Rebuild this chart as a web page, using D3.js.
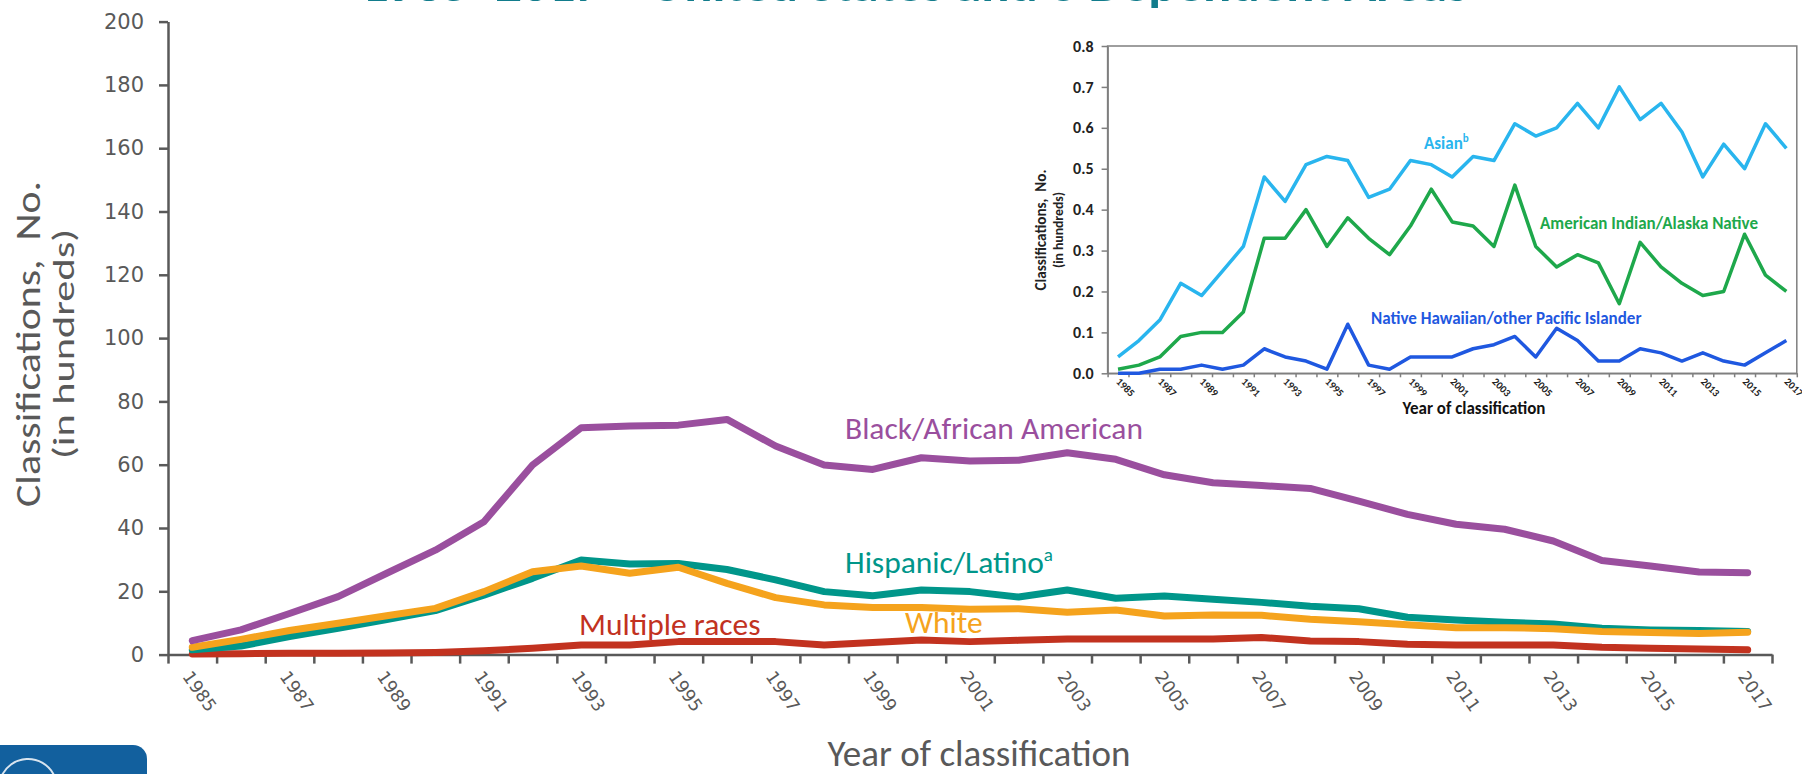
<!DOCTYPE html>
<html>
<head>
<meta charset="utf-8">
<script src="https://cdn.jsdelivr.net/npm/d3@7"></script>
<style>
  html, body { margin: 0; padding: 0; background: #fff; }
  svg { display: block; }
</style>
</head>
<body>
<div id="chart"></div>
<script>
// Years of classification (categories)
const years = [1985, 1986, 1987, 1988, 1989, 1990, 1991, 1992, 1993, 1994, 1995,
  1996, 1997, 1998, 1999, 2000, 2001, 2002, 2003, 2004, 2005, 2006, 2007, 2008,
  2009, 2010, 2011, 2012, 2013, 2014, 2015, 2016, 2017];
const labelYears = [1985, 1987, 1989, 1991, 1993, 1995, 1997, 1999, 2001, 2003,
  2005, 2007, 2009, 2011, 2013, 2015, 2017];

// Main chart series (hundreds)
const black = [4.4, 7.8, 13.0, 18.3, 25.7, 33.0, 42.0, 59.9, 71.7, 72.2, 72.5, 74.3,
  65.9, 59.9, 58.5, 62.2, 61.2, 61.4, 63.8, 61.7, 56.8, 54.3, 53.4, 52.5, 48.5, 44.3,
  41.2, 39.6, 35.9, 29.7, 28.0, 26.1, 25.9];
const hispanic = [1.5, 2.7, 5.7, 8.3, 11.1, 13.9, 18.8, 24.1, 29.9, 28.6, 28.8, 26.9,
  23.6, 19.9, 18.6, 20.4, 19.9, 18.2, 20.4, 17.8, 18.5, 17.5, 16.5, 15.3, 14.5, 11.8,
  10.9, 10.2, 9.7, 8.3, 7.8, 7.6, 7.3];
const white = [2.3, 4.8, 7.6, 9.9, 12.3, 14.6, 19.9, 26.2, 28.0, 25.7, 27.6, 22.5,
  18.0, 15.7, 14.9, 14.9, 14.3, 14.5, 13.4, 14.1, 12.2, 12.5, 12.4, 11.2, 10.4, 9.4,
  8.5, 8.5, 8.2, 7.3, 7.0, 6.7, 7.1];
const multiple = [0.2, 0.3, 0.4, 0.4, 0.5, 0.7, 1.2, 2.0, 3.0, 3.0, 4.1, 4.1, 4.1,
  3.0, 3.8, 4.6, 4.1, 4.5, 4.9, 4.9, 4.9, 4.9, 5.4, 4.3, 4.1, 3.3, 3.0, 3.0, 3.0,
  2.3, 2.0, 1.8, 1.5];

// Inset series (hundreds)
const asian = [0.04, 0.08, 0.13, 0.22, 0.19, 0.25, 0.31, 0.48, 0.42, 0.51, 0.53, 0.52,
  0.43, 0.45, 0.52, 0.51, 0.48, 0.53, 0.52, 0.61, 0.58, 0.60, 0.66, 0.60, 0.70, 0.62,
  0.66, 0.59, 0.48, 0.56, 0.50, 0.61, 0.55];
const aian = [0.01, 0.02, 0.04, 0.09, 0.10, 0.10, 0.15, 0.33, 0.33, 0.40, 0.31, 0.38,
  0.33, 0.29, 0.36, 0.45, 0.37, 0.36, 0.31, 0.46, 0.31, 0.26, 0.29, 0.27, 0.17, 0.32,
  0.26, 0.22, 0.19, 0.20, 0.34, 0.24, 0.20];
const nhpi = [0.00, 0.00, 0.01, 0.01, 0.02, 0.01, 0.02, 0.06, 0.04, 0.03, 0.01, 0.12,
  0.02, 0.01, 0.04, 0.04, 0.04, 0.06, 0.07, 0.09, 0.04, 0.11, 0.08, 0.03, 0.03, 0.06,
  0.05, 0.03, 0.05, 0.03, 0.02, 0.05, 0.08];

const mainTicks = [0, 20, 40, 60, 80, 100, 120, 140, 160, 180, 200];
const insetTicks = [0, 0.1, 0.2, 0.3, 0.4, 0.5, 0.6, 0.7, 0.8];

const width = 1802, height = 774;
const LABEL_FONT = 'Carlito, Lato, sans-serif';
const TICK_FONT = '"DejaVu Sans", Verdana, sans-serif';
const GREY = '#595959';

const svg = d3.select('#chart').append('svg')
  .attr('width', width)
  .attr('height', height);

// Cut-off slide title at the top
svg.append('text')
  .attr('x', 362)
  .attr('y', 1)
  .attr('textLength', 1106)
  .attr('lengthAdjust', 'spacingAndGlyphs')
  .style('font-family', LABEL_FONT)
  .style('font-weight', 'bold')
  .style('font-size', '44px')
  .style('fill', '#127c8c')
  .text('1985\u20132017\u2014United States and 6 Dependent Areas');

// ---------- Main chart ----------
const x = d3.scaleLinear().domain([1984.5, 2017.5]).range([168, 1772]);
const y = d3.scaleLinear().domain([0, 200]).range([654.6, 21.6]);

// boundaries between categories for tick marks
const bounds = years.map(d => d - 0.5).concat([2017.5]);

const xAxisG = svg.append('g')
  .attr('transform', `translate(0,${y(0)})`)
  .call(d3.axisBottom(x).tickValues(bounds).tickSize(9).tickFormat('').tickSizeOuter(0));

const xLabelG = svg.append('g')
  .attr('transform', `translate(0,${y(0)})`)
  .call(d3.axisBottom(x).tickValues(labelYears).tickSize(0).tickFormat(d3.format('d')));
xLabelG.select('.domain').remove();
xLabelG.selectAll('text')
  .attr('x', 0).attr('y', 0).attr('dy', 0)
  .attr('text-anchor', 'start')
  .attr('transform', 'translate(-11,22) rotate(55)')
  .style('font-family', TICK_FONT)
  .style('font-size', '17.5px')
  .style('fill', GREY);

const yAxisG = svg.append('g')
  .attr('transform', `translate(${x(1984.5)},0)`)
  .call(d3.axisLeft(y).tickValues(mainTicks).tickSize(9).tickPadding(15).tickSizeOuter(0));
yAxisG.selectAll('text')
  .style('font-family', TICK_FONT)
  .style('font-size', '21px')
  .style('fill', GREY);

[xAxisG, yAxisG].forEach(g => {
  g.select('.domain').attr('stroke', GREY).attr('stroke-width', 2.5);
  g.selectAll('.tick line').attr('stroke', GREY).attr('stroke-width', 2.5);
});

// axis titles
svg.append('text')
  .attr('x', 979)
  .attr('y', 766)
  .attr('text-anchor', 'middle')
  .style('font-family', LABEL_FONT)
  .style('font-size', '37px')
  .style('fill', GREY)
  .text('Year of classification');

const yTitle = svg.append('text')
  .attr('transform', 'translate(0,344) rotate(-90)')
  .attr('text-anchor', 'middle')
  .style('font-family', LABEL_FONT)
  .style('fill', GREY);
yTitle.append('tspan')
  .attr('x', 0).attr('y', 40)
  .attr('textLength', 326)
  .attr('lengthAdjust', 'spacingAndGlyphs')
  .style('font-size', '34px')
  .text('Classifications,\u00a0 No.');
yTitle.append('tspan')
  .attr('x', 0).attr('y', 74)
  .attr('textLength', 230)
  .attr('lengthAdjust', 'spacingAndGlyphs')
  .style('font-size', '31px')
  .text('(in hundreds)');

const line = d3.line()
  .x((d, i) => x(years[i]))
  .y(d => y(d));

const mainSeries = [
  { values: multiple, color: '#c2321f' },
  { values: hispanic, color: '#00968a' },
  { values: white, color: '#f5a31d' },
  { values: black, color: '#9a4f9e' }
];

svg.append('g').selectAll('path')
  .data(mainSeries)
  .join('path')
  .attr('fill', 'none')
  .attr('stroke', d => d.color)
  .attr('stroke-width', 7)
  .attr('stroke-linejoin', 'round')
  .attr('stroke-linecap', 'round')
  .attr('d', d => line(d.values));

// series labels
function seriesLabel(xPos, yPos, text, color, sup) {
  const t = svg.append('text')
    .attr('x', xPos)
    .attr('y', yPos)
    .style('font-family', LABEL_FONT)
    .style('font-size', '31.5px')
    .style('fill', color)
    .text(text);
  if (sup) {
    t.append('tspan')
      .attr('dy', -12)
      .style('font-size', '19px')
      .text(sup);
  }
}
seriesLabel(845, 439, 'Black/African American', '#9a4f9e');
seriesLabel(845, 573, 'Hispanic/Latino', '#00968a', 'a');
seriesLabel(579, 635, 'Multiple races', '#c2321f');
seriesLabel(905, 633, 'White', '#f5a31d');

// ---------- Inset chart ----------
const ix = d3.scaleLinear().domain([1984.5, 2017.5]).range([1107.6, 1796.8]);
const iy = d3.scaleLinear().domain([0, 0.8]).range([373.3, 46]);
const INSET_GREY = '#7f7f7f';

svg.append('rect')
  .attr('x', ix(1984.5))
  .attr('y', iy(0.8))
  .attr('width', ix(2017.5) - ix(1984.5))
  .attr('height', iy(0) - iy(0.8))
  .attr('fill', 'none')
  .attr('stroke', INSET_GREY)
  .attr('stroke-width', 1.5);

const ixAxis = svg.append('g')
  .attr('transform', `translate(0,${iy(0)})`)
  .call(d3.axisBottom(ix).tickValues(bounds).tickSize(4).tickFormat('').tickSizeOuter(0));

const ixLabels = svg.append('g')
  .attr('transform', `translate(0,${iy(0)})`)
  .call(d3.axisBottom(ix).tickValues(labelYears).tickSize(0).tickFormat(d3.format('d')));
ixLabels.select('.domain').remove();
ixLabels.selectAll('text')
  .attr('x', 0).attr('y', 0).attr('dy', 0)
  .attr('text-anchor', 'start')
  .attr('transform', 'translate(-3,9) rotate(45)')
  .style('font-family', LABEL_FONT)
  .style('font-weight', 'bold')
  .style('font-size', '10.5px')
  .style('fill', '#222');

const iyAxis = svg.append('g')
  .attr('transform', `translate(${ix(1984.5)},0)`)
  .call(d3.axisLeft(iy).tickValues(insetTicks).tickSize(6).tickPadding(8)
    .tickFormat(d3.format('.1f')).tickSizeOuter(0));
iyAxis.selectAll('text')
  .style('font-family', LABEL_FONT)
  .style('font-weight', 'bold')
  .style('font-size', '16px')
  .style('fill', '#222');

[ixAxis, iyAxis].forEach(g => {
  g.select('.domain').attr('stroke', INSET_GREY).attr('stroke-width', 1.5);
  g.selectAll('.tick line').attr('stroke', INSET_GREY).attr('stroke-width', 1.5);
});

svg.append('text')
  .attr('x', 1474)
  .attr('y', 414)
  .attr('text-anchor', 'middle')
  .style('font-family', LABEL_FONT)
  .style('font-weight', 'bold')
  .style('font-size', '17px')
  .style('fill', '#111')
  .text('Year of classification');

const iyTitle = svg.append('text')
  .attr('transform', 'translate(0,230) rotate(-90)')
  .attr('text-anchor', 'middle')
  .style('font-family', LABEL_FONT)
  .style('font-weight', 'bold')
  .style('fill', '#222');
iyTitle.append('tspan')
  .attr('x', 0).attr('y', 1046)
  .attr('textLength', 121)
  .attr('lengthAdjust', 'spacingAndGlyphs')
  .style('font-size', '15px')
  .text('Classifications,\u00a0 No.');
iyTitle.append('tspan')
  .attr('x', 0).attr('y', 1063)
  .attr('textLength', 76)
  .attr('lengthAdjust', 'spacingAndGlyphs')
  .style('font-size', '13.5px')
  .text('(in hundreds)');

const iline = d3.line()
  .x((d, i) => ix(years[i]))
  .y(d => iy(d));

const insetSeries = [
  { values: aian, color: '#1ea84b' },
  { values: nhpi, color: '#1f58e0' },
  { values: asian, color: '#29b5ee' }
];

svg.append('g').selectAll('path')
  .data(insetSeries)
  .join('path')
  .attr('fill', 'none')
  .attr('stroke', d => d.color)
  .attr('stroke-width', 3.5)
  .attr('stroke-linejoin', 'round')
  .attr('d', d => iline(d.values));

function insetLabel(xPos, yPos, text, color, sup) {
  const t = svg.append('text')
    .attr('x', xPos)
    .attr('y', yPos)
    .style('font-family', LABEL_FONT)
    .style('font-weight', 'bold')
    .style('font-size', '17px')
    .style('fill', color)
    .text(text);
  if (sup) {
    t.append('tspan')
      .attr('dy', -7)
      .style('font-size', '11px')
      .text(sup);
  }
}
insetLabel(1424, 149, 'Asian', '#29b5ee', 'b');
insetLabel(1540, 229, 'American Indian/Alaska Native', '#1ea84b');
insetLabel(1371, 324, 'Native Hawaiian/other Pacific Islander', '#1f58e0');

// ---------- Logo tab at bottom left ----------
svg.append('rect')
  .attr('x', -20)
  .attr('y', 745)
  .attr('width', 167)
  .attr('height', 60)
  .attr('rx', 14)
  .attr('fill', '#12609e');
svg.append('path')
  .attr('d', d3.arc()({ innerRadius: 28, outerRadius: 30, startAngle: -1.2, endAngle: 1.1 }))
  .attr('transform', 'translate(28,788)')
  .attr('fill', '#d8e4ef');
</script>
</body>
</html>
